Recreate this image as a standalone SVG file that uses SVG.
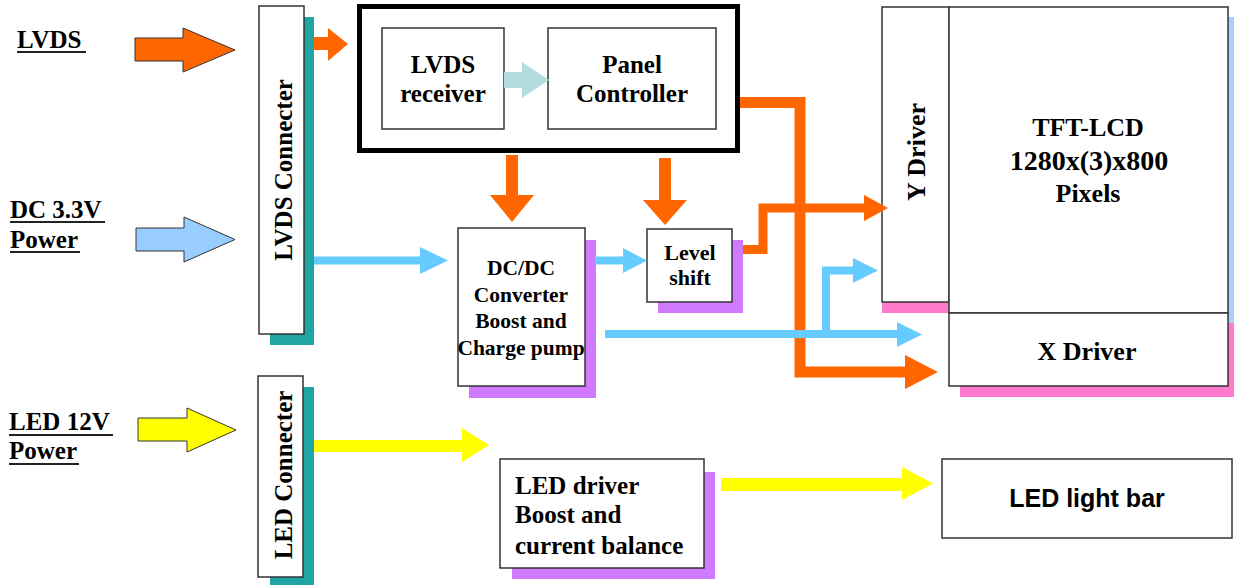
<svg xmlns="http://www.w3.org/2000/svg" width="1234" height="585" viewBox="0 0 1234 585">
<style>
.t{font-family:"Liberation Serif","Times New Roman",serif;font-weight:bold;fill:#000}
.s{font-family:"Liberation Sans",Arial,sans-serif;font-weight:bold;fill:#000}
.box{fill:#fff;stroke:#333;stroke-width:1.5}
.teal{fill:#20A4A4}
.purple{fill:#D07BFF}
.pink{fill:#FF7ACC}
.ul{stroke:#222;stroke-width:2}
.or{fill:#FF6600}
.orl{fill:none;stroke:#FF6600}
.bl{fill:#66CCFF}
.bll{fill:none;stroke:#66CCFF;stroke-width:8}
.ye{fill:#FFFF00}
</style>
<rect width="1234" height="585" fill="#fff"/>

<g id="label-lvds">
<text class="t" x="17" y="48" font-size="25">LVDS</text>
<line class="ul" x1="17" y1="52" x2="86" y2="52"/>
</g>
<g id="label-dc33">
<text class="t" x="10" y="218" font-size="25">DC 3.3V</text>
<line class="ul" x1="10" y1="222" x2="105" y2="222"/>
<text class="t" x="10" y="248" font-size="25">Power</text>
<line class="ul" x1="10" y1="252" x2="80" y2="252"/>
</g>
<g id="label-led12">
<text class="t" x="9" y="430" font-size="25">LED 12V</text>
<line class="ul" x1="9" y1="435" x2="113" y2="435"/>
<text class="t" x="9" y="459" font-size="25">Power</text>
<line class="ul" x1="9" y1="464" x2="79" y2="464"/>
</g>

<g id="lvds-connecter">
<rect class="teal" x="270" y="17" width="44" height="328"/>
<rect class="box" x="259" y="6" width="45" height="328"/>
<text class="t" font-size="25" text-anchor="middle" transform="translate(292,170) rotate(-90)">LVDS Connecter</text>
</g>
<g id="led-connecter">
<rect class="teal" x="270" y="387" width="44" height="205"/>
<rect class="box" x="258" y="376" width="45" height="201"/>
<text class="t" font-size="25" text-anchor="middle" transform="translate(292,475) rotate(-90)">LED Connecter</text>
</g>

<g id="controller-board">
<rect x="359.5" y="6.5" width="378" height="144" fill="#fff" stroke="#000" stroke-width="5"/>
</g>
<g id="lvds-receiver">
<rect class="box" x="382" y="28" width="122" height="101"/>
<text class="t" x="443" y="73" font-size="25" text-anchor="middle">LVDS</text>
<text class="t" x="443" y="102" font-size="25" text-anchor="middle">receiver</text>
</g>
<g id="panel-controller">
<rect class="box" x="548" y="28" width="168" height="101"/>
<text class="t" x="632" y="73" font-size="25" text-anchor="middle">Panel</text>
<text class="t" x="632" y="102" font-size="25" text-anchor="middle">Controller</text>
</g>

<g id="dcdc">
<rect class="purple" x="469" y="240" width="127" height="158"/>
<rect class="box" x="458" y="228" width="127" height="158"/>
<text class="t" x="521" y="275" font-size="21.5" text-anchor="middle">DC/DC</text>
<text class="t" x="521" y="302" font-size="21.5" text-anchor="middle">Converter</text>
<text class="t" x="521" y="328" font-size="21.5" text-anchor="middle">Boost and</text>
<text class="t" x="521" y="355" font-size="21.5" text-anchor="middle">Charge pump</text>
</g>
<g id="level-shift">
<rect class="purple" x="658" y="240" width="85" height="73"/>
<rect class="box" x="647" y="229" width="85" height="73"/>
<text class="t" x="690" y="260" font-size="22" text-anchor="middle">Level</text>
<text class="t" x="690" y="285" font-size="22" text-anchor="middle">shift</text>
</g>

<g id="tft-panel">
<rect x="1228" y="17" width="6" height="306" fill="#A6CFFF"/>
<rect class="pink" x="1228" y="323" width="6" height="74"/>
<rect class="pink" x="960" y="386" width="274" height="11"/>
<rect class="pink" x="882" y="302" width="67" height="11"/>
</g>
<g id="y-driver">
<rect class="box" x="882" y="7" width="67" height="295"/>
<text class="t" font-size="26" text-anchor="middle" transform="translate(925,152) rotate(-90)">Y Driver</text>
</g>
<g id="tft-lcd">
<rect class="box" x="949" y="7" width="279" height="306"/>
<text class="t" x="1088" y="136" font-size="26" text-anchor="middle">TFT-LCD</text>
<text class="t" x="1089" y="170" font-size="28" text-anchor="middle">1280x(3)x800</text>
<text class="t" x="1088" y="202" font-size="26" text-anchor="middle">Pixels</text>
</g>
<g id="x-driver">
<rect class="box" x="949" y="313" width="279" height="73"/>
<text class="t" x="1087" y="360" font-size="26" text-anchor="middle">X Driver</text>
</g>

<g id="led-driver">
<rect class="purple" x="512" y="472" width="203" height="107"/>
<rect class="box" x="500" y="459" width="204" height="109"/>
<text class="t" x="515" y="494" font-size="25">LED driver</text>
<text class="t" x="515" y="523" font-size="25">Boost and</text>
<text class="t" x="515" y="554" font-size="25">current balance</text>
</g>
<g id="led-light-bar">
<rect class="box" x="942" y="459" width="290" height="79"/>
<text class="s" x="1087" y="507" font-size="25" text-anchor="middle">LED light bar</text>
</g>

<g id="connectors">
<polygon class="or" stroke="#333" stroke-width="1" points="135,38 183,38 183,28 235,50 183,72 183,61 135,61"/>
<polygon fill="#99CCFF" stroke="#333" stroke-width="1" points="136,228 184,228 184,217 235,239.5 184,262 184,251 136,251"/>
<polygon class="ye" stroke="#333" stroke-width="1" points="138,418 187,418 187,408 236,430 187,452 187,441 138,441"/>
<polygon class="or" points="314,37 328,37 328,28 348,44 328,61 328,50 314,50"/>
<polygon fill="#B4DDE2" points="504,72 522,72 522,62 549,80 522,98 522,88 504,88"/>
<polygon class="or" points="506,155 518,155 518,195 534,195 512,222 490,195 506,195"/>
<polygon class="or" points="659,158 671,158 671,200 687,200 665,225 643,200 659,200"/>
<polyline class="orl" stroke-width="9" points="743,249.5 763,249.5 763,208 865,208"/>
<polygon class="or" points="864,195 888,208 864,221"/>
<polyline class="orl" stroke-width="11" points="740,102.5 800,102.5 800,372 906,372"/>
<polygon class="or" points="905,355 938,372 905,389"/>
<line class="bll" x1="314" y1="260.5" x2="421" y2="260.5"/>
<polygon class="bl" points="420,247 448,260.5 420,274"/>
<line class="bll" x1="595" y1="260.5" x2="624" y2="260.5"/>
<polygon class="bl" points="623,248 647,260.5 623,273"/>
<line class="bll" x1="605" y1="334" x2="898" y2="334"/>
<polygon class="bl" points="897,322 922,334.5 897,347"/>
<polyline class="bll" points="826,334 826,270.5 854,270.5"/>
<polygon class="bl" points="853,258 878,270.5 853,283"/>
<polygon class="ye" points="314,440 462,440 462,428 489,445 462,462 462,452 314,452"/>
<polygon class="ye" points="721,478 902,478 902,467 933,483.5 902,500 902,491 721,491"/>
</g>
</svg>
